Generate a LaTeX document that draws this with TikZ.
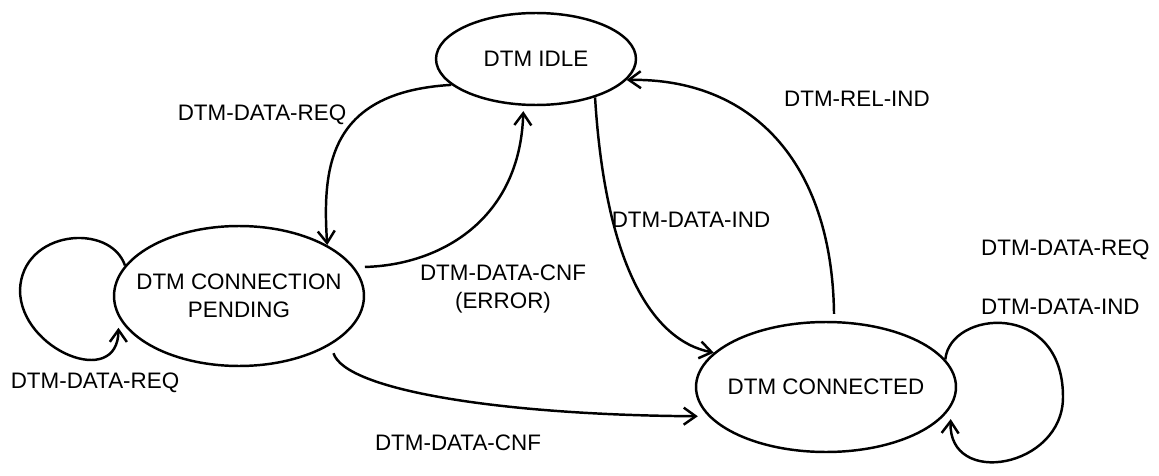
\documentclass[tikz,border=0pt]{standalone}
\usepackage{fontspec}
\setmainfont{Liberation Sans}
\usetikzlibrary{arrows.meta,shapes.geometric}
\tikzset{
    %Define standard arrow tip
    >={Straight Barb[length=2.4mm,width=3.4mm]},
    %Define style for states
    tilstand/.style={
           ellipse,
           draw=black, line width=1.4pt,
           inner sep=0pt,
           align=center},
    % Define arrow style
    overgang/.style={
           ->,
           line width=1.4pt},
    % Define style for labels
    tekst/.style={
           align=center}
}

\begin{document}
\begin{tikzpicture}[x=0.02cm, y=-0.02cm, font=\fontsize{12.75}{15.9}\selectfont]
\useasboundingbox (0,0) rectangle (1159,476);
% states
\node[tilstand, minimum width=4cm, minimum height=1.84cm] (idle) at (536,59) {DTM IDLE};
\node[tilstand, inner xsep=-0.29cm, minimum width=5cm, minimum height=2.8cm] (pending) at (239,296) {DTM CONNECTION\\PENDING};
\node[tilstand, inner xsep=-0.13cm, minimum width=5.2cm, minimum height=2.6cm] (connected) at (826,387) {DTM CONNECTED};

% labels
\node[tekst] (reqtop) at (262,115) {DTM-DATA-REQ};
\node[tekst] (relind) at (857,99) {DTM-REL-IND};
\node[tekst] (indmid) at (691,220) {DTM-DATA-IND};
\node[tekst] (cnferror) at (503,289) {DTM-DATA-CNF\\(ERROR)};
\node[tekst] (cnfbottom) at (458,443) {DTM-DATA-CNF};
\node[tekst] (reqleft) at (95,383) {DTM-DATA-REQ};
\node[tekst, anchor=west] (reqright) at (975,250) {DTM-DATA-REQ};
\node[tekst, anchor=west] (indright) at (975,307) {DTM-DATA-IND};

% transitions
\draw[overgang] (idle.197) .. controls (330,92) and (322,165) .. (pending.30);
\draw[overgang, shorten <=6pt, shorten >=3pt] (pending.14) .. controls (440,265) and (520,220) .. (idle.255);
\draw[overgang] (idle.327) .. controls (605,260) and (650,340) .. (connected.163);
\draw[overgang, shorten <=4pt] (connected.83) .. controls (832,160) and (750,78) .. (idle.347);
\draw[overgang, shorten <=5pt, shorten >=6pt] (pending.332) .. controls (345,390) and (500,415) .. (connected.194);
\draw[overgang, shorten >=6pt] (pending.165) .. controls (110,222) and (22,230) .. (20,290)
    .. controls (20,350) and (118,390) .. (pending.190);
\draw[overgang, shorten >=7pt] (connected.13) .. controls (950,310) and (1063,300) .. (1063,397)
    .. controls (1063,468) and (948,488) .. (connected.351);
\end{tikzpicture}
\end{document}
